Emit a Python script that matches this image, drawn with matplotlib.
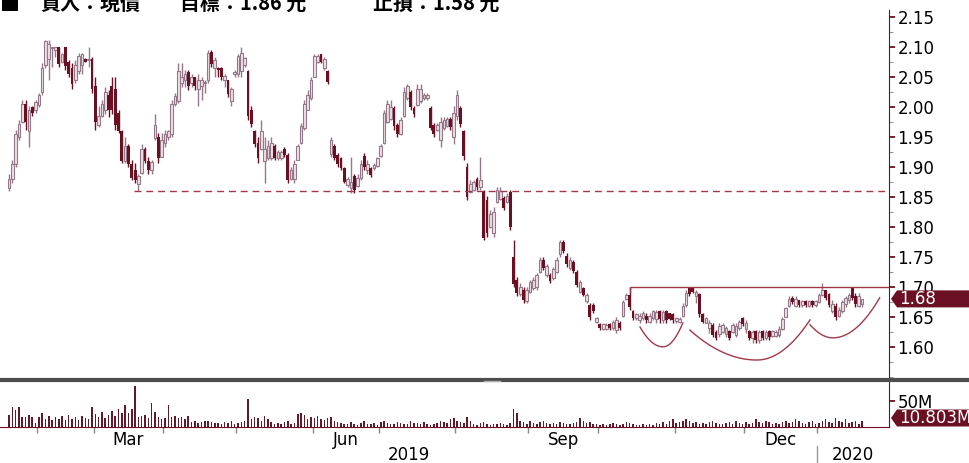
import numpy as np
import pandas as pd
import matplotlib
matplotlib.use("Agg")
import matplotlib.pyplot as plt
import matplotlib.transforms as mtransforms
from matplotlib.lines import Line2D
from matplotlib.patches import Polygon
from matplotlib.ticker import FixedLocator, FormatStrFormatter, MultipleLocator

# ---- data (daily candles) ----
START_DATE = "2019-01-21"
MARKET_HOLIDAYS = ["2019-02-05", "2019-02-06", "2019-02-07"]

opens = [
    1.865, 1.880, 1.905, 1.950, 1.975, 2.005, 1.960, 2.000, 1.995, 2.003,
    2.025, 2.070, 2.080, 2.098, 2.095, 2.100, 2.075, 2.100, 2.075, 2.065,
    2.045, 2.060, 2.070, 2.080, 2.078, 2.080, 2.035, 1.970, 1.985, 1.995,
    2.020, 2.035, 2.030, 1.990, 1.960, 1.910, 1.935, 1.905, 1.895, 1.872,
    1.890, 1.930, 1.910, 1.895, 1.948, 1.950, 1.917, 1.940, 1.950, 1.955,
    2.005, 2.010, 2.040, 2.045, 2.058, 2.040, 2.050, 2.030, 2.035, 2.040,
    2.045, 2.092, 2.065, 2.065, 2.065, 2.045, 2.045, 2.010, 2.056, 2.055,
    2.060, 2.070, 2.060, 1.995, 1.960, 1.940, 1.930, 1.910, 1.915, 1.915,
    1.935, 1.915, 1.915, 1.930, 1.920, 1.880, 1.880, 1.912, 1.940, 1.965,
    1.995, 2.015, 2.051, 2.075, 2.088, 2.065, 2.060, 1.922, 1.935, 1.920,
    1.915, 1.898, 1.870, 1.865, 1.885, 1.868, 1.882, 1.918, 1.895, 1.898,
    1.898, 1.902, 1.918, 1.940, 1.975, 1.980, 1.998, 1.970, 1.955, 1.985,
    2.015, 2.025, 1.998, 2.003, 2.010, 2.015, 2.015, 1.998, 1.970, 1.962,
    1.945, 1.965, 1.968, 1.980, 1.950, 1.985, 1.998, 1.960, 1.900, 1.858,
    1.862, 1.880, 1.866, 1.860, 1.845, 1.800, 1.790, 1.842, 1.847, 1.848,
    1.842, 1.858, 1.750, 1.712, 1.688, 1.695, 1.676, 1.692, 1.698, 1.700,
    1.725, 1.745, 1.720, 1.720, 1.715, 1.725, 1.755, 1.775, 1.752, 1.732,
    1.742, 1.725, 1.692, 1.698, 1.676, 1.670, 1.670, 1.642, 1.638, 1.630,
    1.630, 1.638, 1.632, 1.628, 1.640, 1.652, 1.680, 1.686, 1.660, 1.648,
    1.645, 1.648, 1.652, 1.642, 1.648, 1.646, 1.660, 1.645, 1.660, 1.656,
    1.655, 1.643, 1.641, 1.652, 1.670, 1.700, 1.700, 1.685, 1.688, 1.654,
    1.640, 1.632, 1.636, 1.625, 1.622, 1.625, 1.622, 1.626, 1.625, 1.620,
    1.632, 1.648, 1.630, 1.626, 1.615, 1.626, 1.612, 1.626, 1.614, 1.626,
    1.618, 1.618, 1.620, 1.630, 1.650, 1.668, 1.682, 1.668, 1.678, 1.670,
    1.677, 1.668, 1.677, 1.669, 1.675, 1.686, 1.695, 1.688, 1.660, 1.668,
    1.652, 1.660, 1.672, 1.678, 1.698, 1.685, 1.668, 1.672,
]
highs = [
    1.889, 1.912, 1.962, 1.978, 2.012, 2.012, 2.001, 2.001, 2.012, 2.023,
    2.073, 2.112, 2.112, 2.101, 2.101, 2.101, 2.090, 2.101, 2.078, 2.073,
    2.078, 2.090, 2.090, 2.082, 2.101, 2.084, 2.051, 2.001, 2.012, 2.034,
    2.028, 2.051, 2.051, 1.995, 1.962, 1.950, 1.939, 1.912, 1.906, 1.889,
    1.939, 1.934, 1.917, 1.912, 1.989, 1.956, 1.956, 1.962, 1.962, 2.012,
    2.023, 2.073, 2.073, 2.062, 2.062, 2.056, 2.051, 2.056, 2.051, 2.045,
    2.095, 2.095, 2.084, 2.067, 2.067, 2.056, 2.045, 2.034, 2.062, 2.089,
    2.101, 2.084, 2.062, 2.001, 1.962, 1.950, 1.978, 1.950, 1.945, 1.950,
    1.939, 1.928, 1.928, 1.934, 1.923, 1.900, 1.912, 1.939, 1.973, 2.012,
    2.028, 2.051, 2.089, 2.089, 2.089, 2.084, 2.062, 1.950, 1.939, 1.923,
    1.917, 1.900, 1.884, 1.917, 1.889, 1.889, 1.912, 1.923, 1.912, 1.900,
    1.906, 1.917, 1.939, 1.995, 2.012, 2.012, 2.001, 1.973, 1.984, 2.034,
    2.039, 2.028, 2.001, 2.039, 2.039, 2.023, 2.023, 2.001, 1.973, 1.973,
    1.984, 1.984, 1.984, 1.984, 2.001, 2.028, 2.001, 1.962, 1.906, 1.878,
    1.878, 1.884, 1.917, 1.862, 1.851, 1.828, 1.834, 1.867, 1.867, 1.851,
    1.856, 1.862, 1.778, 1.717, 1.706, 1.700, 1.700, 1.712, 1.717, 1.723,
    1.750, 1.750, 1.739, 1.723, 1.734, 1.750, 1.778, 1.778, 1.756, 1.750,
    1.745, 1.728, 1.712, 1.700, 1.689, 1.673, 1.673, 1.650, 1.640, 1.640,
    1.640, 1.640, 1.645, 1.650, 1.643, 1.678, 1.689, 1.700, 1.662, 1.656,
    1.656, 1.659, 1.656, 1.656, 1.662, 1.662, 1.662, 1.662, 1.662, 1.656,
    1.656, 1.650, 1.650, 1.673, 1.695, 1.700, 1.700, 1.695, 1.689, 1.656,
    1.650, 1.645, 1.639, 1.628, 1.639, 1.639, 1.634, 1.628, 1.639, 1.639,
    1.645, 1.650, 1.645, 1.628, 1.628, 1.628, 1.628, 1.628, 1.628, 1.628,
    1.628, 1.628, 1.634, 1.650, 1.667, 1.684, 1.684, 1.684, 1.678, 1.678,
    1.678, 1.678, 1.678, 1.678, 1.689, 1.706, 1.695, 1.689, 1.678, 1.673,
    1.667, 1.678, 1.684, 1.689, 1.700, 1.689, 1.689, 1.678,
]
lows = [
    1.860, 1.873, 1.900, 1.945, 1.973, 1.962, 1.934, 1.985, 1.990, 2.000,
    2.020, 2.065, 2.045, 2.067, 2.084, 2.067, 2.073, 2.062, 2.051, 2.031,
    2.040, 2.055, 2.055, 2.075, 2.067, 2.023, 1.962, 1.967, 1.984, 1.989,
    1.984, 1.989, 1.962, 1.956, 1.906, 1.906, 1.900, 1.878, 1.873, 1.860,
    1.889, 1.906, 1.889, 1.889, 1.945, 1.906, 1.917, 1.934, 1.945, 1.950,
    2.001, 2.006, 2.034, 2.034, 2.028, 2.034, 2.028, 2.001, 2.012, 2.023,
    2.040, 2.067, 2.051, 2.051, 2.045, 2.034, 2.017, 2.001, 2.051, 2.051,
    2.051, 2.067, 1.978, 1.967, 1.934, 1.906, 1.928, 1.873, 1.912, 1.912,
    1.912, 1.912, 1.912, 1.917, 1.873, 1.878, 1.873, 1.912, 1.939, 1.962,
    1.995, 2.012, 2.051, 2.073, 2.073, 2.062, 2.039, 1.917, 1.912, 1.900,
    1.895, 1.873, 1.867, 1.856, 1.856, 1.867, 1.878, 1.895, 1.889, 1.884,
    1.895, 1.900, 1.917, 1.939, 1.973, 1.978, 1.962, 1.950, 1.953, 1.984,
    2.012, 1.995, 1.984, 2.001, 2.006, 2.012, 2.012, 1.962, 1.950, 1.960,
    1.934, 1.962, 1.967, 1.962, 1.939, 1.978, 1.967, 1.912, 1.845, 1.856,
    1.860, 1.862, 1.862, 1.778, 1.784, 1.798, 1.784, 1.840, 1.845, 1.828,
    1.840, 1.795, 1.700, 1.684, 1.684, 1.673, 1.673, 1.689, 1.695, 1.695,
    1.723, 1.728, 1.717, 1.706, 1.712, 1.723, 1.750, 1.756, 1.734, 1.728,
    1.723, 1.700, 1.689, 1.684, 1.673, 1.645, 1.656, 1.640, 1.628, 1.628,
    1.628, 1.628, 1.628, 1.623, 1.628, 1.650, 1.678, 1.662, 1.645, 1.645,
    1.640, 1.645, 1.640, 1.639, 1.645, 1.640, 1.640, 1.640, 1.640, 1.645,
    1.639, 1.639, 1.639, 1.650, 1.667, 1.684, 1.690, 1.673, 1.650, 1.639,
    1.639, 1.623, 1.617, 1.612, 1.617, 1.623, 1.617, 1.612, 1.623, 1.617,
    1.628, 1.634, 1.623, 1.612, 1.606, 1.606, 1.606, 1.612, 1.612, 1.612,
    1.617, 1.617, 1.617, 1.628, 1.650, 1.667, 1.672, 1.667, 1.667, 1.667,
    1.667, 1.667, 1.667, 1.667, 1.673, 1.684, 1.678, 1.667, 1.656, 1.645,
    1.650, 1.656, 1.667, 1.673, 1.678, 1.667, 1.667, 1.667,
]
closes = [
    1.880, 1.905, 1.955, 1.972, 2.005, 1.975, 1.995, 1.990, 2.008, 2.020,
    2.065, 2.110, 2.105, 2.100, 2.100, 2.072, 2.088, 2.068, 2.055, 2.038,
    2.070, 2.085, 2.088, 2.076, 2.080, 2.030, 1.975, 1.985, 2.005, 2.025,
    1.995, 1.995, 1.970, 1.960, 1.910, 1.935, 1.905, 1.882, 1.878, 1.885,
    1.930, 1.910, 1.895, 1.908, 1.970, 1.915, 1.945, 1.955, 1.960, 2.005,
    2.018, 2.060, 2.050, 2.055, 2.035, 2.050, 2.035, 2.045, 2.045, 2.042,
    2.090, 2.072, 2.078, 2.062, 2.050, 2.052, 2.022, 2.030, 2.058, 2.085,
    2.090, 2.082, 1.985, 1.972, 1.938, 1.915, 1.960, 1.930, 1.935, 1.940,
    1.915, 1.925, 1.925, 1.920, 1.878, 1.895, 1.905, 1.935, 1.968, 2.005,
    2.020, 2.045, 2.085, 2.085, 2.076, 2.080, 2.042, 1.945, 1.915, 1.905,
    1.898, 1.875, 1.880, 1.875, 1.862, 1.882, 1.905, 1.900, 1.905, 1.887,
    1.904, 1.915, 1.935, 1.990, 2.005, 2.000, 1.968, 1.955, 1.978, 2.025,
    2.035, 2.000, 1.988, 2.030, 2.030, 2.020, 2.021, 1.965, 1.955, 1.970,
    1.975, 1.978, 1.980, 1.967, 1.990, 2.020, 1.972, 1.918, 1.850, 1.872,
    1.875, 1.866, 1.878, 1.782, 1.790, 1.822, 1.825, 1.862, 1.860, 1.832,
    1.852, 1.800, 1.705, 1.690, 1.700, 1.678, 1.695, 1.708, 1.712, 1.720,
    1.745, 1.732, 1.735, 1.710, 1.730, 1.745, 1.775, 1.760, 1.738, 1.745,
    1.727, 1.704, 1.708, 1.687, 1.686, 1.650, 1.660, 1.648, 1.632, 1.638,
    1.637, 1.631, 1.641, 1.645, 1.632, 1.675, 1.686, 1.666, 1.648, 1.654,
    1.652, 1.656, 1.644, 1.652, 1.659, 1.658, 1.646, 1.658, 1.645, 1.647,
    1.645, 1.648, 1.646, 1.668, 1.690, 1.688, 1.692, 1.692, 1.655, 1.642,
    1.648, 1.640, 1.620, 1.615, 1.635, 1.636, 1.632, 1.615, 1.636, 1.635,
    1.642, 1.638, 1.640, 1.615, 1.625, 1.612, 1.624, 1.615, 1.625, 1.616,
    1.626, 1.625, 1.630, 1.646, 1.664, 1.680, 1.675, 1.680, 1.670, 1.676,
    1.669, 1.676, 1.670, 1.676, 1.686, 1.695, 1.682, 1.670, 1.672, 1.650,
    1.662, 1.674, 1.682, 1.687, 1.682, 1.672, 1.684, 1.680,
]
# volume in millions of shares
volumes = [
    23, 38, 33, 38, 19, 19, 23, 19, 8, 19, 27, 15,
    21, 13, 19, 15, 21, 13, 23, 15, 19, 13, 21, 17,
    15, 38, 25, 19, 29, 17, 23, 31, 21, 35, 27, 42, 27,
    35, 79, 19, 21, 23, 17, 46, 29, 19, 15, 17, 42, 19, 21, 17, 19, 15, 21,
    10, 12, 8, 10, 12, 12, 10, 8, 8, 6, 10, 8, 12, 6, 8, 10, 12,
    54, 15, 19, 17, 12, 21, 15, 10,
    6, 8, 6, 10, 12, 6, 8,
    25, 27, 23, 15, 19,
    17, 21, 15, 13, 17, 19, 12, 10,
    8, 6, 6, 10, 6, 4, 8, 12, 6, 6, 8, 4, 10, 12, 8, 6, 6, 10, 8, 6,
    6, 12, 8, 8, 6, 10, 6, 4, 6, 8, 12, 10, 8, 15, 17, 12, 10, 8, 19, 12,
    6, 4, 8, 10, 6, 4, 6, 6, 8, 6, 4, 8,
    35, 27, 12, 10, 6, 12, 8, 6, 10, 12, 8, 6, 8, 6, 10, 8, 6, 6,
    8, 10, 17, 12, 8, 10, 6, 6, 4, 6, 4, 6, 8, 6, 4,
    6, 10, 8, 6, 4, 4, 6, 4, 6, 4, 8, 6, 10, 6, 12,
    15, 8, 10, 12, 15, 12, 8, 10, 6, 8, 6, 10, 12, 8, 6,
    6, 8, 10, 6, 12, 8, 6, 10, 6, 8, 15, 10, 8, 12, 10, 6, 8, 6, 10, 12,
    8, 10, 15, 12, 8, 6, 10, 12, 6, 8, 12, 15, 10, 8, 17, 12, 10, 15, 8, 10, 12, 6, 10.803,
]

# chart annotations drawn on the picture
resistance_level = 1.86
resistance_start = 37.6
neckline_level = 1.70
neckline_start = 187.0
neckline_foot = 1.69
# cups: (start x, start price), (bottom x, bottom price), (end x, end price)
cups = [
    [(190.1, 1.633), (197.0, 1.600), (203.0, 1.640)],
    [(205.1, 1.628), (225.3, 1.578), (241.3, 1.645)],
    [(241.3, 1.637), (248.2, 1.615), (262.3, 1.682)],
]
plan_parts = [("■", 0), ("買入：現價", 40), ("目標：1.86 元", 180), ("止損：1.58 元", 373)]

# ---- styling ----
W, H = 969, 463
DOWN = "#6b0f22"
UP_FACE = "#ece2e5"
UP_EDGE = "#94788a"
MAROON = "#6b0f22"
LINE_RED = "#a03a4a"
VOL = "#62192a"

opens, highs, lows, closes = map(np.asarray, (opens, highs, lows, closes))
volumes = np.asarray(volumes, dtype=float)
n = len(closes)
x = np.arange(n)
dates = pd.bdate_range(START_DATE, periods=n, freq="C", holidays=MARKET_HOLIDAYS)

fig = plt.figure(figsize=(W / 100, H / 100), dpi=100)


def fx(px):
    return px / W


def fy(py):
    return 1 - py / H


ax = fig.add_axes([0, fy(378), fx(889), fy(10) - fy(378)])
axv = fig.add_axes([0, fy(427), fx(889), fy(382) - fy(427)])

# candles
up = closes >= opens
body_lo = np.minimum(opens, closes)
body_h = np.maximum(np.abs(closes - opens), 0.0015)
ax.vlines(x[up], lows[up], highs[up], color=UP_EDGE, lw=1.0, zorder=2)
ax.vlines(x[~up], lows[~up], highs[~up], color=DOWN, lw=1.0, zorder=2)
ax.bar(x[up], body_h[up], bottom=body_lo[up], width=0.8,
       facecolor=UP_FACE, edgecolor=UP_EDGE, linewidth=0.8, zorder=3)
ax.bar(x[~up], body_h[~up], bottom=body_lo[~up], width=0.85,
       color=DOWN, linewidth=0, zorder=3)

xmin, xmax = -2.7, 265.1
ax.set_xlim(xmin, xmax)
ax.set_ylim(1.548, 2.162)

# support / resistance lines and cups
ax.hlines(resistance_level, resistance_start, xmax, colors=LINE_RED, lw=1.0,
          linestyles=(0, (5, 3.5)), zorder=4)
ax.hlines(neckline_level, neckline_start, xmax, colors=LINE_RED, lw=1.0, zorder=4)
ax.vlines(neckline_start, neckline_foot, neckline_level, colors=LINE_RED, lw=1.0, zorder=4)
for (x0, y0), (xb, yb), (x1, y1) in cups:
    xl = np.linspace(x0, xb, 30)
    xr = np.linspace(xb, x1, 30)
    yl = yb + (y0 - yb) * ((xl - xb) / (x0 - xb)) ** 2
    yr = yb + (y1 - yb) * ((xr - xb) / (x1 - xb)) ** 2
    ax.plot(np.r_[xl, xr], np.r_[yl, yr], color=LINE_RED, lw=1.0, zorder=4,
            clip_on=False)

for s in ("left", "top", "bottom"):
    ax.spines[s].set_visible(False)
ax.spines["right"].set_color(MAROON)
ax.yaxis.tick_right()
ax.yaxis.set_major_locator(FixedLocator(np.round(np.arange(1.60, 2.151, 0.05), 2)))
ax.yaxis.set_minor_locator(MultipleLocator(0.025))
ax.yaxis.set_major_formatter(FormatStrFormatter("%.2f"))
ax.tick_params(axis="y", which="major", direction="out", length=4, width=1.3,
               color=MAROON, labelsize=12, pad=2)
ax.tick_params(axis="y", which="minor", direction="out", length=3, width=0.8,
               color="#999999")
ax.tick_params(axis="x", which="both", bottom=False, labelbottom=False)

# volume
axv.bar(x, volumes, width=0.45, color=VOL, linewidth=0)
axv.set_xlim(xmin, xmax)
axv.set_ylim(0, 86.5)
for s in ("left", "top"):
    axv.spines[s].set_visible(False)
axv.spines["right"].set_color(MAROON)
axv.spines["bottom"].set_color(MAROON)
axv.yaxis.tick_right()
axv.set_yticks([50])
axv.set_yticklabels(["50M"])
axv.tick_params(axis="y", direction="out", length=4, width=1.3, color=MAROON,
                labelsize=12, pad=2)

month_starts = [i for i in range(1, n) if dates[i].month != dates[i - 1].month]
bounds = [i - 0.5 for i in month_starts]
axv.set_xticks(bounds)
axv.set_xticklabels([""] * len(bounds))
axv.tick_params(axis="x", which="major", direction="out", length=4, width=1,
                color="#888888")
label_pos, label_txt = [], []
edges = bounds + [xmax]
for k, b in enumerate(bounds[:-1]):
    d = dates[month_starts[k]]
    if d.month in (3, 6, 9, 12):
        label_pos.append((b + edges[k + 1]) / 2)
        label_txt.append(d.strftime("%b"))
axv.set_xticks(label_pos, minor=True)
axv.set_xticklabels(label_txt, minor=True)
axv.tick_params(axis="x", which="minor", length=0, labelsize=12, pad=3)

# year labels under the months
fig.canvas.draw()
to_px = axv.transData.transform
year_idx = [i for i in month_starts if dates[i].month == 1]
yb = year_idx[0] - 0.5
x_year = to_px((yb, 0))[0]
x_left = to_px((xmin, 0))[0]
x_right = to_px((xmax, 0))[0]
fig.text((x_left + x_year) / 2 / W, fy(455), str(dates[0].year), ha="center",
         va="center", fontsize=12)
fig.text((x_year + x_right) / 2 / W, fy(455), str(dates[year_idx[0]].year),
         ha="center", va="center", fontsize=12)
fig.add_artist(Line2D([x_year / W] * 2, [fy(446), fy(463)], transform=fig.transFigure,
                      color="#999999", lw=1))

# panel separator
fig.add_artist(Line2D([0, 1], [fy(380)] * 2, transform=fig.transFigure,
                      color="#4d4d4d", lw=3))
fig.add_artist(Line2D([fx(484), fx(500)], [fy(381)] * 2, transform=fig.transFigure,
                      color="#b0b0b0", lw=1))


def price_tag(y_disp, text):
    half = 8.5
    x0 = 891
    pts = [(x0, y_disp), (x0 + 6, y_disp + half), (W + 5, y_disp + half),
           (W + 5, y_disp - half), (x0 + 6, y_disp - half)]
    fig.add_artist(Polygon(pts, closed=True, facecolor=MAROON, edgecolor="none",
                           transform=mtransforms.IdentityTransform()))
    fig.text(899 / W, y_disp / H, text, color="white", fontsize=12,
             ha="left", va="center")


price_tag(ax.transData.transform((0, closes[-1]))[1], f"{closes[-1]:.2f}")
vy = axv.transData.transform((0, volumes[-1]))[1]
vy = max(vy, axv.transAxes.transform((0, 0))[1] + 9)
price_tag(vy, f"{volumes[-1]:.3f}M")

# trade plan header (cut off at the top edge)
for txt, px in plan_parts:
    fig.text(fx(px), fy(11), txt, fontsize=14.4, fontweight="bold",
             family=["Noto Sans CJK TC", "DejaVu Sans"], ha="left", va="baseline")

fig.savefig("out.png", dpi=100)
